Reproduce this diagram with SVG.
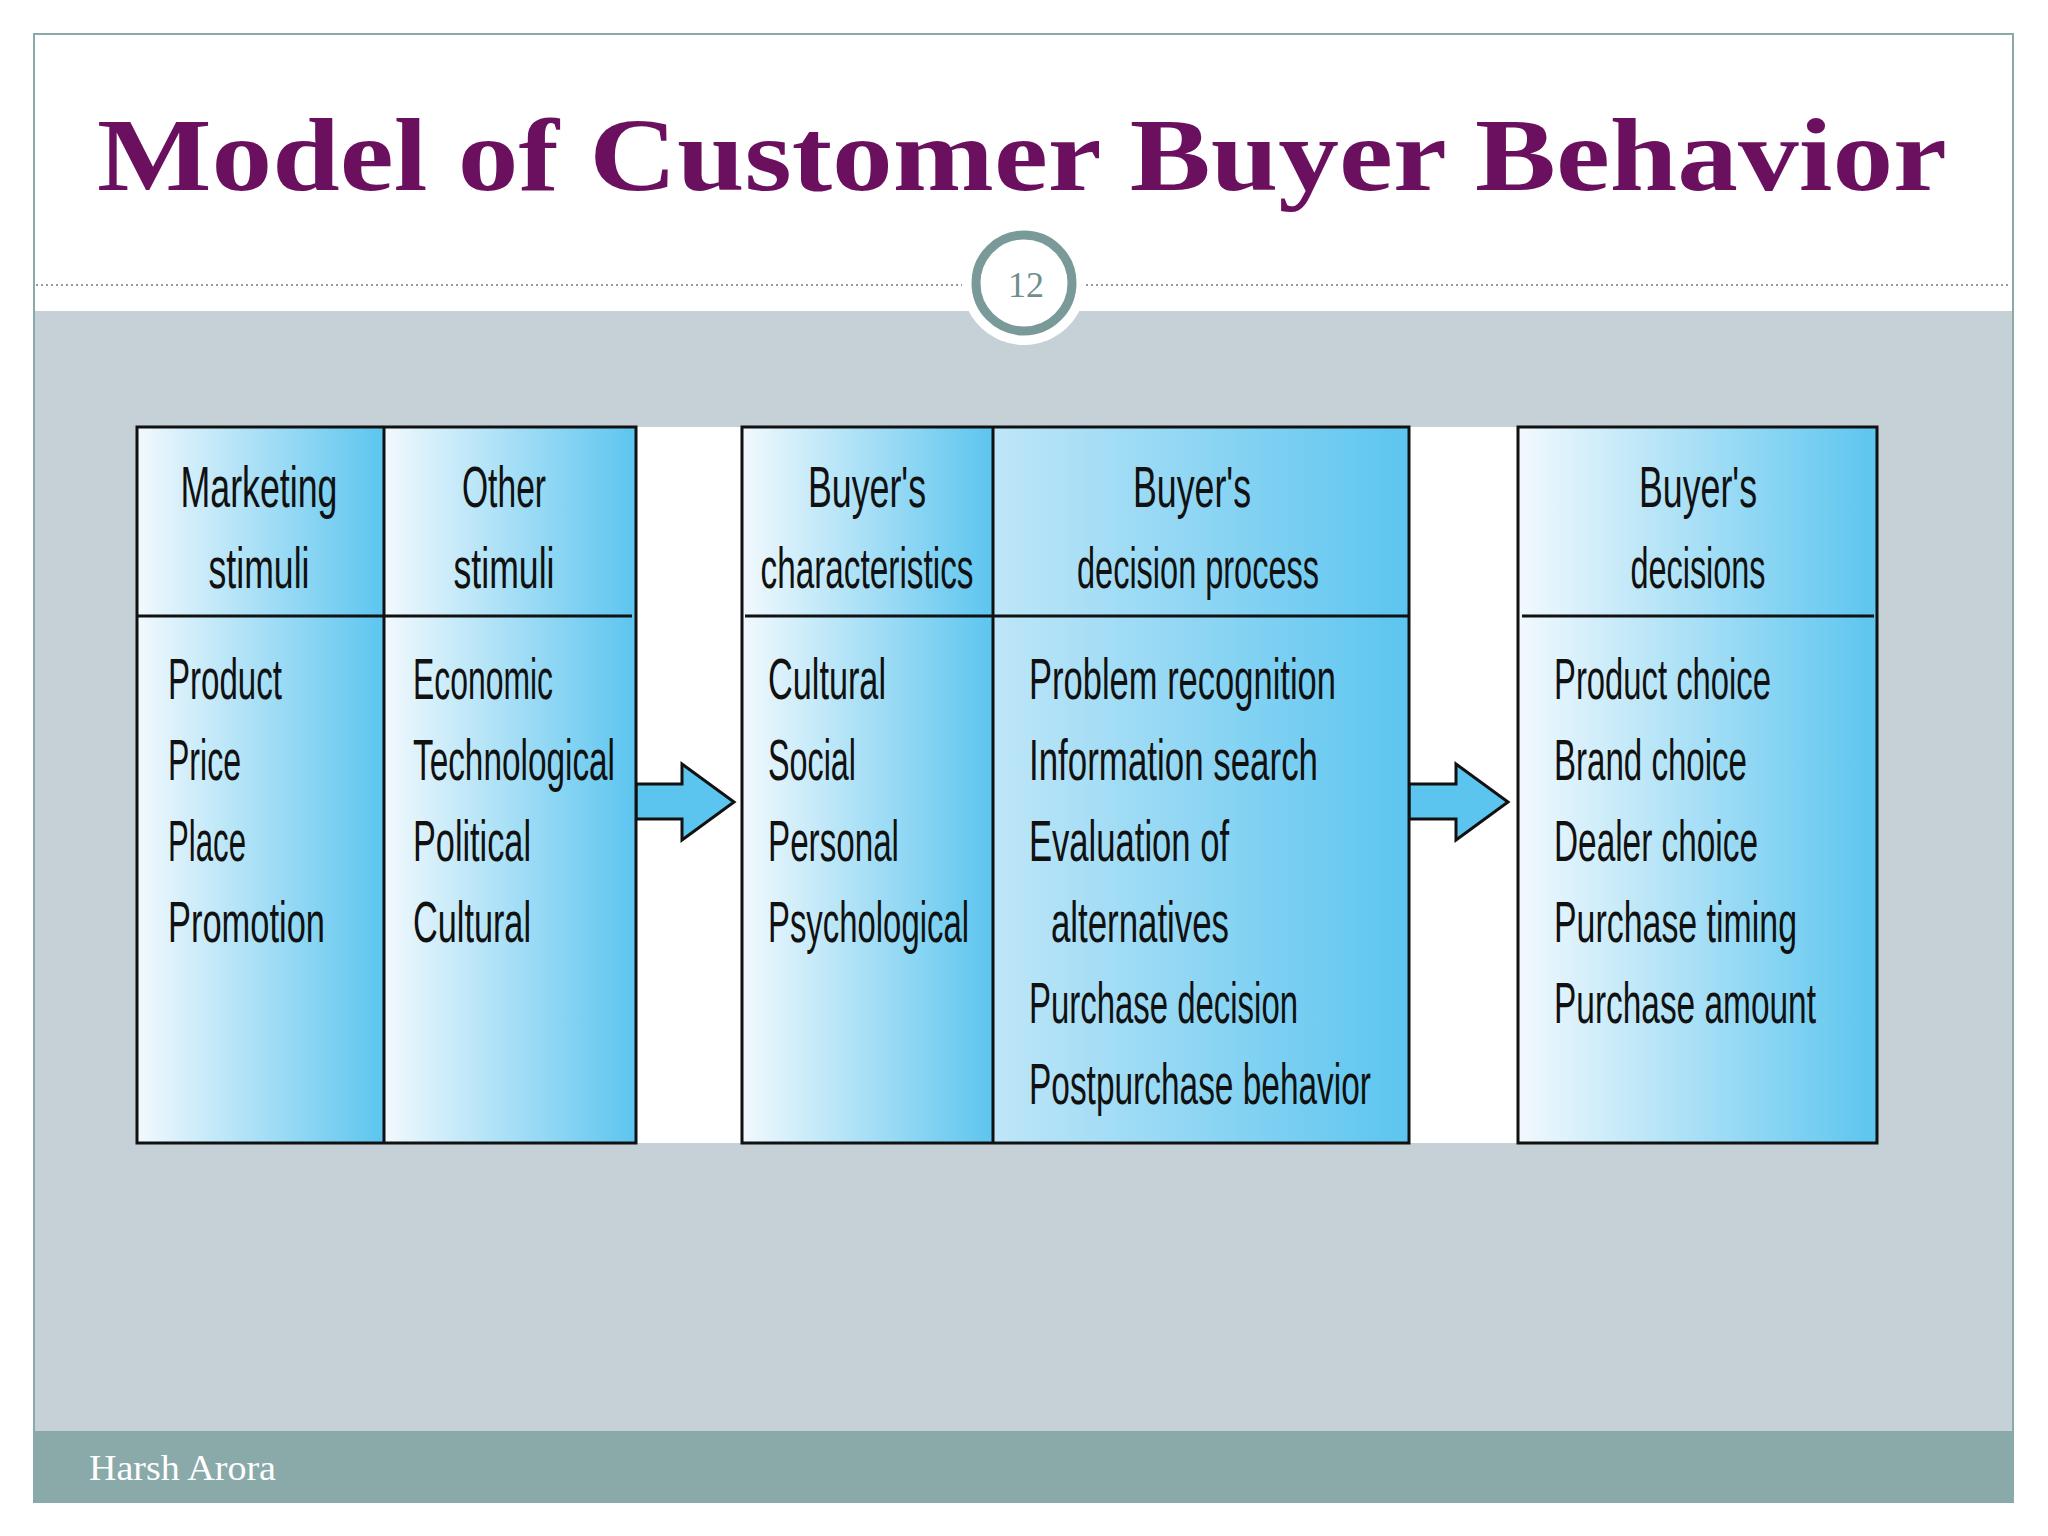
<svg xmlns="http://www.w3.org/2000/svg" width="2048" height="1536" viewBox="0 0 2048 1536">
<defs>
<linearGradient id="g" x1="0" y1="0" x2="1" y2="0"><stop offset="0" stop-color="#f2f9fd"/><stop offset="1" stop-color="#5cc5ef"/></linearGradient>
<linearGradient id="g2" x1="0" y1="0" x2="1" y2="0"><stop offset="0" stop-color="#bfe6f8"/><stop offset="1" stop-color="#5cc5ef"/></linearGradient>
<style>
.t{font-family:"Liberation Sans",Arial,sans-serif;font-size:58px;fill:#111}
.h{text-anchor:middle}
.box{fill:url(#g)}
.ln{stroke:#111;stroke-width:3;fill:none}
.ar{fill:#5cc5ef;stroke:#111;stroke-width:3}
</style>
</defs>
<rect x="0" y="0" width="2048" height="1536" fill="#fff"/>
<rect x="34" y="311" width="1979" height="1120" fill="#c5d1d7"/>
<rect x="34" y="1431" width="1979" height="71" fill="#8aa9a9"/>
<rect x="34" y="34" width="1979" height="1468" fill="none" stroke="#8aa9a9" stroke-width="2"/>
<line x1="36" y1="285" x2="2011" y2="285" stroke="#999" stroke-width="2" stroke-dasharray="2,3"/>
<circle cx="1024" cy="283" r="62" fill="#fff"/>
<circle cx="1024" cy="283" r="48" fill="#fff" stroke="#7a9a9a" stroke-width="9"/>
<text x="1026" y="297" text-anchor="middle" font-family="Liberation Serif,serif" font-size="36" fill="#6f8f8f">12</text>
<text x="1022" y="190" text-anchor="middle" font-family="Liberation Serif,serif" font-weight="bold" font-size="104" fill="#6b0f5f" textLength="1850" lengthAdjust="spacingAndGlyphs">Model of Customer Buyer Behavior</text>
<text x="89" y="1480" font-family="Liberation Serif,serif" font-size="36" fill="#fff" textLength="187" lengthAdjust="spacingAndGlyphs">Harsh Arora</text>
<rect x="137" y="427" width="1740" height="716" fill="#fff"/>
<g id="connectors">
<path class="ar" d="M636 784 H682 V764 L734 802 L682 840 V819 H636 Z"/>
<path class="ar" d="M1409 784 H1456 V764 L1508 802 L1456 840 V819 H1409 Z"/>
</g>
<g id="stimuli">
<rect class="box" x="137" y="427" width="247" height="716"/>
<rect class="box" x="384" y="427" width="252" height="716"/>
<rect class="ln" x="137" y="427" width="499" height="716"/>
<line class="ln" x1="384" y1="427" x2="384" y2="1143"/>
<line class="ln" x1="137" y1="616" x2="632" y2="616"/>
<text class="t h" x="259" y="507" textLength="157" lengthAdjust="spacingAndGlyphs">Marketing</text>
<text class="t h" x="259" y="588" textLength="101" lengthAdjust="spacingAndGlyphs">stimuli</text>
<text class="t h" x="504" y="507" textLength="84" lengthAdjust="spacingAndGlyphs">Other</text>
<text class="t h" x="504" y="588" textLength="101" lengthAdjust="spacingAndGlyphs">stimuli</text>
<text class="t" x="168" y="699" textLength="114" lengthAdjust="spacingAndGlyphs">Product</text>
<text class="t" x="168" y="780" textLength="73" lengthAdjust="spacingAndGlyphs">Price</text>
<text class="t" x="168" y="861" textLength="78" lengthAdjust="spacingAndGlyphs">Place</text>
<text class="t" x="168" y="942" textLength="157" lengthAdjust="spacingAndGlyphs">Promotion</text>
<text class="t" x="413" y="699" textLength="140" lengthAdjust="spacingAndGlyphs">Economic</text>
<text class="t" x="413" y="780" textLength="202" lengthAdjust="spacingAndGlyphs">Technological</text>
<text class="t" x="413" y="861" textLength="118" lengthAdjust="spacingAndGlyphs">Political</text>
<text class="t" x="413" y="942" textLength="118" lengthAdjust="spacingAndGlyphs">Cultural</text>
</g>
<g id="blackbox">
<rect class="box" x="742" y="427" width="251" height="716"/>
<rect x="993" y="427" width="416" height="716" fill="url(#g2)"/>
<rect class="ln" x="742" y="427" width="667" height="716"/>
<line class="ln" x1="993" y1="427" x2="993" y2="1143"/>
<line class="ln" x1="745" y1="616" x2="1409" y2="616"/>
<text class="t h" x="867" y="507" textLength="118" lengthAdjust="spacingAndGlyphs">Buyer's</text>
<text class="t h" x="867" y="588" textLength="213" lengthAdjust="spacingAndGlyphs">characteristics</text>
<text class="t h" x="1192" y="507" textLength="118" lengthAdjust="spacingAndGlyphs">Buyer's</text>
<text class="t h" x="1198" y="588" textLength="242" lengthAdjust="spacingAndGlyphs">decision process</text>
<text class="t" x="768" y="699" textLength="118" lengthAdjust="spacingAndGlyphs">Cultural</text>
<text class="t" x="768" y="780" textLength="88" lengthAdjust="spacingAndGlyphs">Social</text>
<text class="t" x="768" y="861" textLength="131" lengthAdjust="spacingAndGlyphs">Personal</text>
<text class="t" x="768" y="942" textLength="201" lengthAdjust="spacingAndGlyphs">Psychological</text>
<text class="t" x="1029" y="699" textLength="307" lengthAdjust="spacingAndGlyphs">Problem recognition</text>
<text class="t" x="1029" y="780" textLength="289" lengthAdjust="spacingAndGlyphs">Information search</text>
<text class="t" x="1029" y="861" textLength="200" lengthAdjust="spacingAndGlyphs">Evaluation of</text>
<text class="t" x="1051" y="942" textLength="178" lengthAdjust="spacingAndGlyphs">alternatives</text>
<text class="t" x="1029" y="1023" textLength="269" lengthAdjust="spacingAndGlyphs">Purchase decision</text>
<text class="t" x="1029" y="1104" textLength="342" lengthAdjust="spacingAndGlyphs">Postpurchase behavior</text>
</g>
<g id="decisions">
<rect class="box" x="1518" y="427" width="359" height="716"/>
<rect class="ln" x="1518" y="427" width="359" height="716"/>
<line class="ln" x1="1522" y1="616" x2="1874" y2="616"/>
<text class="t h" x="1698" y="507" textLength="118" lengthAdjust="spacingAndGlyphs">Buyer's</text>
<text class="t h" x="1698" y="588" textLength="135" lengthAdjust="spacingAndGlyphs">decisions</text>
<text class="t" x="1554" y="699" textLength="217" lengthAdjust="spacingAndGlyphs">Product choice</text>
<text class="t" x="1554" y="780" textLength="193" lengthAdjust="spacingAndGlyphs">Brand choice</text>
<text class="t" x="1554" y="861" textLength="204" lengthAdjust="spacingAndGlyphs">Dealer choice</text>
<text class="t" x="1554" y="942" textLength="243" lengthAdjust="spacingAndGlyphs">Purchase timing</text>
<text class="t" x="1554" y="1023" textLength="262" lengthAdjust="spacingAndGlyphs">Purchase amount</text>
</g>
</svg>
